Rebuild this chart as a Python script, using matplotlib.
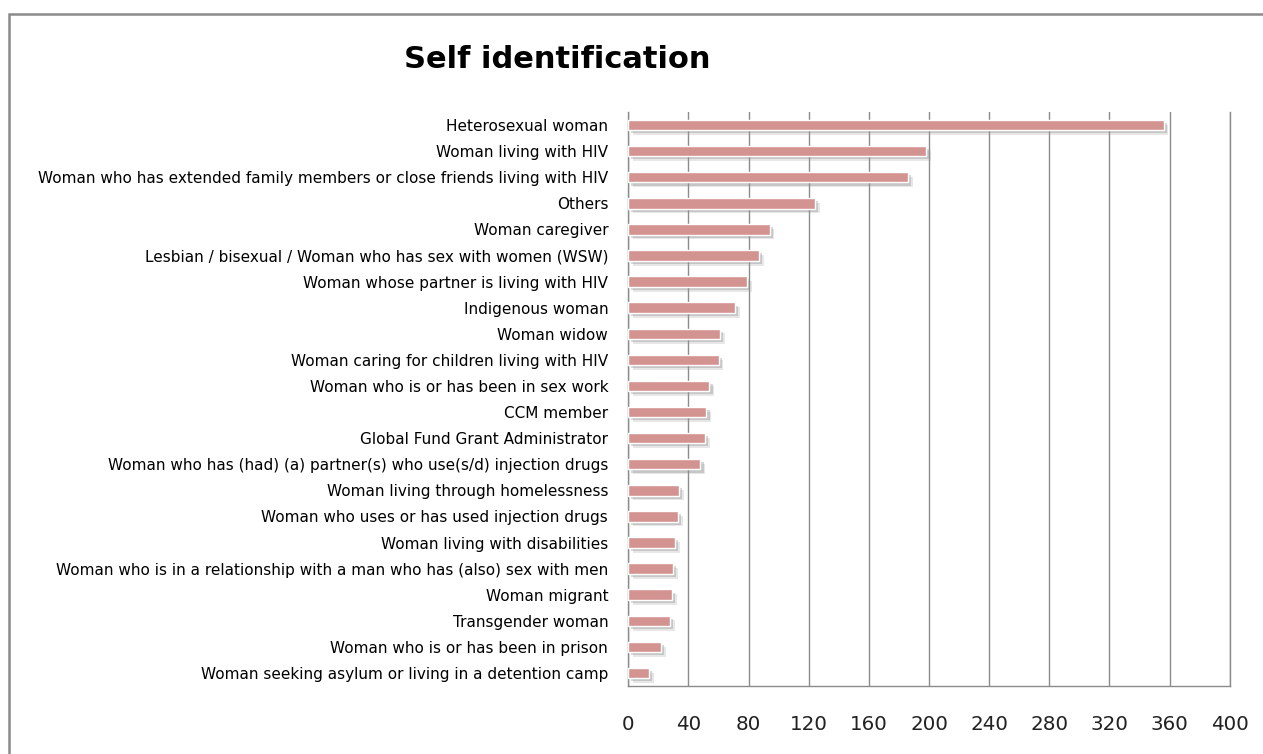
import matplotlib
matplotlib.use("Agg")
import matplotlib.pyplot as plt
import matplotlib.patheffects as pe
from matplotlib.patches import Rectangle

categories = [
    "Heterosexual woman",
    "Woman living with HIV",
    "Woman who has extended family members or close friends living with HIV",
    "Others",
    "Woman caregiver",
    "Lesbian / bisexual / Woman who has sex with women (WSW)",
    "Woman whose partner is living with HIV",
    "Indigenous woman",
    "Woman widow",
    "Woman caring for children living with HIV",
    "Woman who is or has been in sex work",
    "CCM member",
    "Global Fund Grant Administrator",
    "Woman who has (had) (a) partner(s) who use(s/d) injection drugs",
    "Woman living through homelessness",
    "Woman who uses or has used injection drugs",
    "Woman living with disabilities",
    "Woman who is in a relationship with a man who has (also) sex with men",
    "Woman migrant",
    "Transgender woman",
    "Woman who is or has been in prison",
    "Woman seeking asylum or living in a detention camp",
]
values = [356, 198, 186, 124, 94, 87, 79, 71, 61, 60, 54, 52, 51, 48,
          34, 33, 31, 30, 29, 28, 22, 14]
xticks = [0, 40, 80, 120, 160, 200, 240, 280, 320, 360, 400]

W, H = 1263, 754
fig = plt.figure(figsize=(W / 100, H / 100), dpi=100)
fig.patch.set_facecolor("white")

# outer chart border
fig.patches.append(Rectangle((8.5 / W, -0.1), 1.2, 1 - 13.5 / H + 0.1,
                             transform=fig.transFigure, fill=False,
                             edgecolor="#8a8a8a", linewidth=1.8))

ax = fig.add_axes([628.3 / W, 1 - 686 / H, (1229.7 - 628.3) / W, (686 - 112) / H])
ax.set_xlim(0, 400)
ax.set_ylim(len(categories) - 0.5, -0.5)

ypos = list(range(len(categories)))
bars = ax.barh(ypos, values, height=0.4, color="#d39391",
               edgecolor="white", linewidth=1.0, zorder=3)
for b in bars:
    b.set_path_effects([
        pe.SimplePatchShadow(offset=(3.5, -3.5), shadow_rgbFace="#a0a0a0", alpha=0.25),
        pe.SimplePatchShadow(offset=(2.2, -2.2), shadow_rgbFace="#8a8a8a", alpha=0.35),
        pe.Normal(),
    ])

ax.set_xticks(xticks)
ax.set_xticklabels([str(t) for t in xticks], fontsize=14.3, color="#222222",
                   family="DejaVu Sans")
ax.set_yticks(ypos)
ax.set_yticklabels(categories, fontsize=11.0, color="black", family="DejaVu Sans")
ax.tick_params(axis="both", length=0)
ax.tick_params(axis="y", pad=14.5)
ax.tick_params(axis="x", pad=21)

ax.grid(axis="x", color="#8c8c8c", linewidth=1.0, zorder=0)
ax.set_axisbelow(True)
ax.spines["top"].set_visible(False)
for s in ["left", "bottom", "right"]:
    ax.spines[s].set_color("#8c8c8c")
    ax.spines[s].set_linewidth(1.0)

fig.text(557 / W, 1 - 60 / H, "Self identification", ha="center", va="center",
         fontsize=22, fontweight="bold", family="DejaVu Sans", color="black")

fig.savefig("out.png", dpi=100)
